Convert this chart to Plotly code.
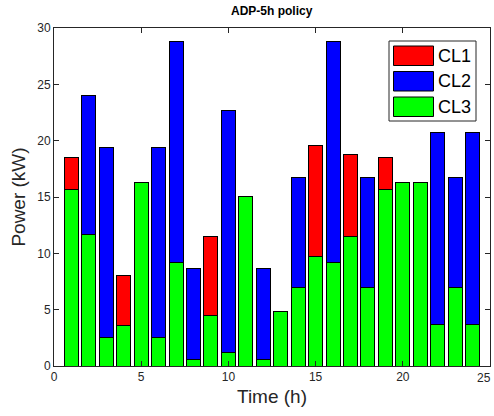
import plotly.graph_objects as go

hours = list(range(1, 25))
cl3 = [15.7, 11.7, 2.5, 3.6, 16.25, 2.5, 9.2, 0.56, 4.45, 1.2, 15.05, 0.56,
       4.8, 6.95, 9.75, 9.2, 11.5, 6.95, 15.7, 16.25, 16.25, 3.65, 6.95, 3.65]
cl2 = [None, 12.3, 16.9, None, None, 16.9, 19.6, 8.05, None, 21.45, None, 8.05,
       None, 9.75, None, 19.6, None, 9.75, None, None, None, 17.05, 9.75, 17.05]
cl1 = [2.8, None, None, 4.4, None, None, None, None, 7.05, None, None, None,
       None, None, 9.85, None, 7.3, None, 2.8, None, None, None, None, None]
series_names = ["CL1", "CL2", "CL3"]
series_colors = ["#ff0000", "#0000ff", "#00ff00"]

line = dict(color="black", width=1)
fig = go.Figure()
for name, vals, col in [("CL3", cl3, "#00ff00"), ("CL2", cl2, "#0000ff"), ("CL1", cl1, "#ff0000")]:
    fig.add_trace(go.Bar(x=hours, y=vals, name=name, marker=dict(color=col, line=line)))

axis_common = dict(showline=True, linecolor="#262626", linewidth=1, mirror="ticks",
                   ticks="inside", ticklen=5, tickcolor="#262626", showgrid=False,
                   zeroline=False, tickfont=dict(family="Arial", size=12, color="#262626"))
fig.update_layout(
    width=494, height=416,
    margin=dict(l=54, r=4, t=28, b=50),
    barmode="stack", bargap=0.2,
    plot_bgcolor="white", paper_bgcolor="white",
    title=dict(text="<b>ADP-5h policy</b>", x=0.55, xanchor="center", y=0.985, yanchor="top",
               font=dict(family="Arial", size=12, color="black")),
    xaxis=dict(range=[0, 25], tickvals=[0, 5, 10, 15, 20, 25],
               title=dict(text="Time (h)", font=dict(family="Arial", size=19, color="#262626"), standoff=6),
               **axis_common),
    yaxis=dict(range=[0, 30], tickvals=[0, 5, 10, 15, 20, 25, 30],
               title=dict(text="Power (kW)", font=dict(family="Arial", size=19, color="#262626"), standoff=6),
               **axis_common),
    showlegend=False,
)

# x tick label "25" (sits at the right edge in the reference); keep it inside the page
fig.add_annotation(x=25, y=0, xref="x", yref="y", text="25", showarrow=False,
                   xanchor="right", xshift=3, yanchor="top", yshift=-3,
                   font=dict(family="Arial", size=12, color="#262626"))

# manual legend (MATLAB style)
pw, ph = 436.0, 338.0
def px(x):
    return (x - 54) / pw
def py(y):
    return (366 - y) / ph
fig.add_shape(type="rect", xref="paper", yref="paper", x0=px(389), x1=px(476), y0=py(121), y1=py(41),
              line=dict(color="#262626", width=1), fillcolor="white", layer="above")
for i, (nm, col) in enumerate(zip(series_names, series_colors)):
    top = 46 + i * 25.5
    fig.add_shape(type="rect", xref="paper", yref="paper", x0=px(393.5), x1=px(433.5),
                  y0=py(top + 19.5), y1=py(top), line=dict(color="black", width=1),
                  fillcolor=col, layer="above")
    fig.add_annotation(xref="paper", yref="paper", x=px(436), y=py(top + 9.75), text=nm,
                       showarrow=False, xanchor="left", yanchor="middle",
                       font=dict(family="Arial", size=18, color="black"))

fig.write_html("out.html")
